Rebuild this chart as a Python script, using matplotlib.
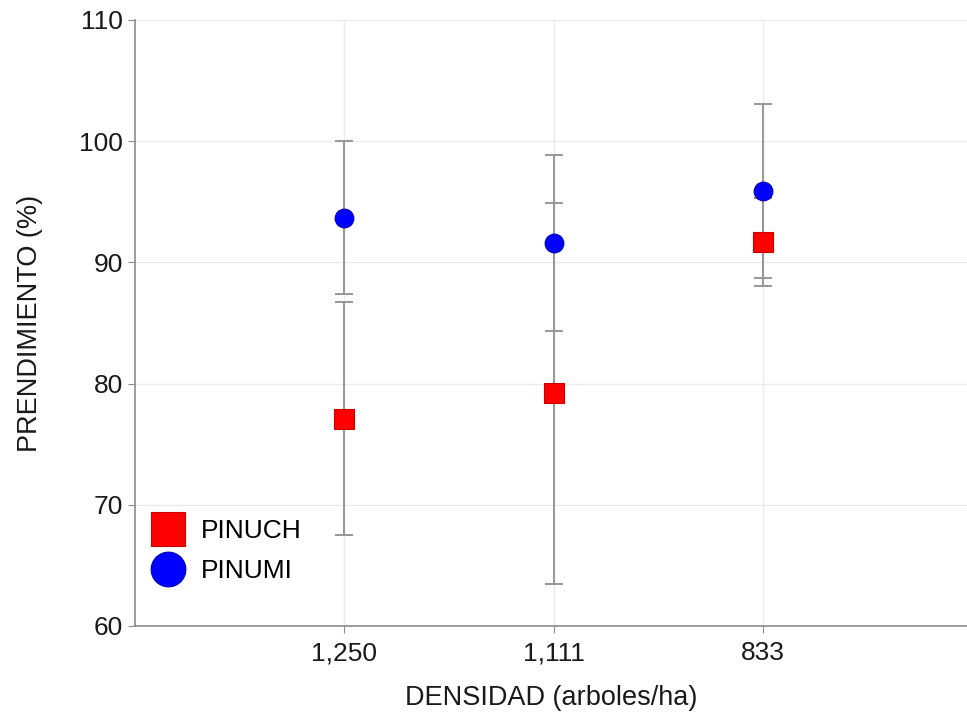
import numpy as np
import matplotlib.pyplot as plt
from matplotlib.lines import Line2D

plt.rcParams['font.family'] = ['Liberation Sans', 'DejaVu Sans']

densidad = ['1,250', '1,111', '833']

pinuch = [77.1, 79.2, 91.7]
pinuch_err = [9.6, 15.7, 3.65]

pinumi = [93.7, 91.6, 95.9]
pinumi_err = [6.3, 7.3, 7.2]

x = np.arange(len(densidad))

fig = plt.figure(figsize=(9.67, 7.17), dpi=100)
ax = fig.add_axes([135/967, 1-626/717, 1-135/967, (626-20)/717])

ax.errorbar(x, pinuch, yerr=pinuch_err, fmt='none', ecolor='#969696',
            elinewidth=1.4, capsize=6.5, capthick=1.4, zorder=2)
ax.errorbar(x, pinumi, yerr=pinumi_err, fmt='none', ecolor='#969696',
            elinewidth=1.4, capsize=6.5, capthick=1.4, zorder=2)
ax.plot(x, pinuch, 's', color='#ff0000', mec='#c80000', mew=0.8, ms=14,
        linestyle='none', zorder=3)
ax.plot(x, pinumi, 'o', color='#0000ff', mec='#0000b4', mew=0.8, ms=13.5,
        linestyle='none', zorder=3)

ax.set_xlim(-1, 2.975)
ax.set_ylim(60, 110)
ax.set_xticks(x)
ax.set_xticklabels(densidad)
ax.set_yticks(np.arange(60, 111, 10))

ax.grid(True, color='#ebebeb', linewidth=1)
ax.set_axisbelow(True)
for s in ['top', 'right']:
    ax.spines[s].set_visible(False)
for s in ['left', 'bottom']:
    ax.spines[s].set_color('#8c8c8c')
    ax.spines[s].set_linewidth(1.2)
ax.tick_params(axis='both', colors='#8c8c8c', labelcolor='#1a1a1a',
               labelsize=19, length=5, direction='out')
ax.tick_params(axis='x', pad=6)

ax.set_xlabel('DENSIDAD (arboles/ha)', fontsize=19.5, color='#1a1a1a', labelpad=14)
ax.set_ylabel('PRENDIMIENTO (%)', fontsize=19.5, color='#1a1a1a', labelpad=26)

# legend with big markers
handles = [Line2D([], [], marker='s', color='#ff0000', mec='#c80000', mew=0.8,
                  ms=25, linestyle='none'),
           Line2D([], [], marker='o', color='#0000ff', mec='#0000b4', mew=0.8,
                  ms=25, linestyle='none')]
ax.legend(handles, ['PINUCH', 'PINUMI'], loc='lower left',
          bbox_to_anchor=(-0.005, 0.04), frameon=False, fontsize=19,
          handlelength=1.4, handletextpad=0.55, labelspacing=0.6,
          borderaxespad=0.3)

fig.savefig('out.png', dpi=100)
